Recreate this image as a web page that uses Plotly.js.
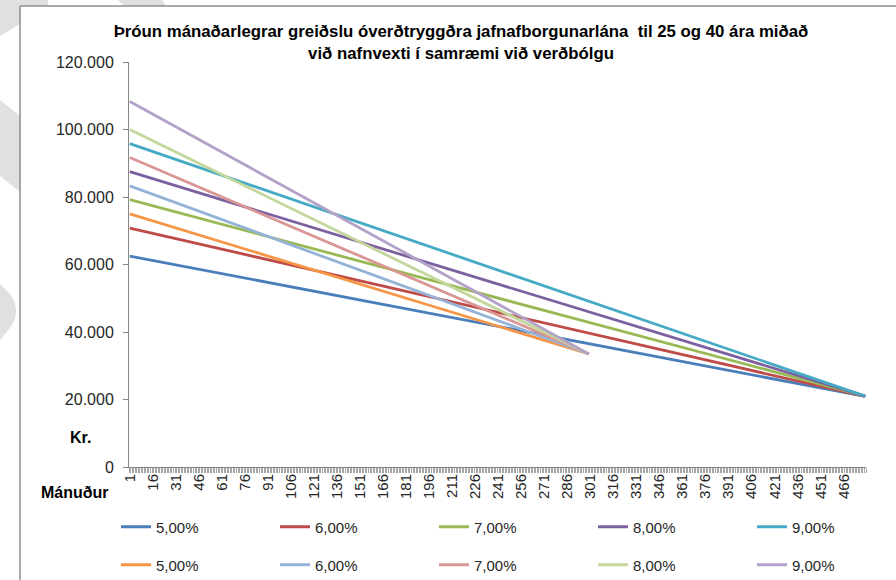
<!DOCTYPE html>
<html>
<head>
<meta charset="utf-8">
<script src="https://cdn.plot.ly/plotly-3.0.1.min.js"></script>
<style>html,body{margin:0;padding:0;background:#fff;}#chart{width:896px;height:580px;}</style>
</head>
<body>
<div id="chart"></div>
<script>
// ---- data ----
var seriesNames = ['5,00%', '6,00%', '7,00%', '8,00%', '9,00%'];
var months40 = [1, 480];
var months25 = [1, 300];
var start40 = [62500, 70800, 79200, 87500, 95800];
var end40 = [20900, 20900, 21000, 21000, 21000];
var start25 = [75000, 83300, 91700, 100000, 108300];
var end25 = [33500, 33500, 33500, 33500, 33500];
var xTickVals = [1, 16, 31, 46, 61, 76, 91, 106, 121, 136, 151, 166, 181, 196, 211, 226, 241, 256, 271, 286, 301, 316, 331, 346, 361, 376, 391, 406, 421, 436, 451, 466];
var yTickVals = [0, 20000, 40000, 60000, 80000, 100000, 120000];
var yTickText = ['0', '20.000', '40.000', '60.000', '80.000', '100.000', '120.000'];

// ---- styling ----
var colors40 = ['#4A7EBB', '#BE4B48', '#98B954', '#7D60A0', '#46AAC5'];
var colors25 = ['#F79646', '#95B3D7', '#D99694', '#C3D69B', '#B3A2C7'];
var FONT = 'Liberation Sans, Arial, sans-serif';
var TXT = '#262626';

var traces = [];
seriesNames.forEach(function (n, i) {
  traces.push({
    type: 'scatter', mode: 'lines', name: n, legend: 'legend',
    x: months40, y: [start40[i], end40[i]],
    line: {color: colors40[i], width: 2.8}, hoverinfo: 'skip'
  });
});
seriesNames.forEach(function (n, i) {
  traces.push({
    type: 'scatter', mode: 'lines', name: n, legend: 'legend2',
    x: months25, y: [start25[i], end25[i]],
    line: {color: colors25[i], width: 2.8}, hoverinfo: 'skip'
  });
});

var L = 129, R = 30, T = 62, B = 113, W = 896, H = 580;
var pw = W - L - R, ph = H - T - B;
function px(x) { return (x - L) / pw; }
function py(y) { return (H - B - y) / ph; }
function path(pts) {
  return 'M' + pts.map(function (p) { return px(p[0]) + ',' + py(p[1]); }).join(' L') + ' Z';
}

var legendBase = {
  orientation: 'h', xanchor: 'left', yanchor: 'middle',
  entrywidth: 114, entrywidthmode: 'pixels',
  font: {family: FONT, size: 15, color: TXT},
  bgcolor: 'rgba(0,0,0,0)', itemclick: false, itemdoubleclick: false
};

var wm = {type: 'path', xref: 'paper', yref: 'paper', fillcolor: '#e0e0e0', line: {width: 0}, layer: 'below'};

var layout = {
  width: W, height: H,
  margin: {l: L, r: R, t: T, b: B, autoexpand: false},
  paper_bgcolor: '#ffffff', plot_bgcolor: '#ffffff',
  showlegend: true,
  title: {
    text: '<b>Þróun mánaðarlegrar greiðslu óverðtryggðra jafnafborgunarlána  til 25 og 40 ára miðað<br>við nafnvexti í samræmi við verðbólgu</b>',
    x: 461 / W, xanchor: 'center', xref: 'container',
    y: 1 - 37 / H, yanchor: 'top', yref: 'container',
    font: {family: FONT, size: 16.8, color: '#000000'}
  },
  xaxis: {
    range: [0.5, 480.5], tickmode: 'array', tickvals: xTickVals, ticktext: xTickVals.map(String),
    tickangle: -90, ticks: '', showgrid: false, zeroline: false,
    showline: true, linecolor: '#868686', linewidth: 1,
    tickfont: {family: FONT, size: 15, color: TXT},
    minor: {ticks: 'outside', ticklen: 5, tickcolor: '#a6a6a6', tickwidth: 1, dtick: 1, tick0: 0.5, showgrid: false}
  },
  yaxis: {
    range: [0, 120000], tickmode: 'array', tickvals: yTickVals, ticktext: yTickText,
    ticks: 'outside', ticklen: 5, tickcolor: '#868686', showgrid: false, zeroline: false,
    showline: true, linecolor: '#868686', linewidth: 1, ticklabelstandoff: 6,
    tickfont: {family: FONT, size: 16, color: TXT}
  },
  legend: Object.assign({}, legendBase, {x: px(116), y: py(527)}),
  legend2: Object.assign({}, legendBase, {x: px(116), y: py(565)}),
  annotations: [
    {text: '<b>Kr.</b>', xref: 'paper', yref: 'paper', x: px(93), y: py(437), xanchor: 'right', yanchor: 'middle', showarrow: false, font: {family: FONT, size: 16, color: '#000'}},
    {text: '<b>Mánuður</b>', xref: 'paper', yref: 'paper', x: px(111), y: py(492), xanchor: 'right', yanchor: 'middle', showarrow: false, font: {family: FONT, size: 16, color: '#000'}}
  ],
  shapes: [
    Object.assign({}, wm, {path: path([[0, 0], [48, 0], [48, 6], [20, 6], [20, 24], [0, 36]])}),
    Object.assign({}, wm, {path: path([[118, 0], [162, 0], [166, 6], [124, 6]])}),
    Object.assign({}, wm, {path: path([[0, 100], [20, 116], [20, 192], [0, 176]])}),
    Object.assign({}, wm, {path: 'M' + px(0) + ',' + py(284) + ' L' + px(10) + ',' + py(294) + ' Q' + px(22) + ',' + py(311) + ' ' + px(10) + ',' + py(328) + ' L' + px(0) + ',' + py(340) + ' Z'}),
    {type: 'line', xref: 'paper', yref: 'paper', x0: px(20), x1: px(20), y0: py(6), y1: py(580), line: {color: '#8c8c8c', width: 1.5}},
    {type: 'line', xref: 'paper', yref: 'paper', x0: px(20), x1: px(896), y0: py(6), y1: py(6), line: {color: '#8c8c8c', width: 1.5}}
  ]
};

Plotly.newPlot('chart', traces, layout, {displayModeBar: false, staticPlot: true});
</script>
</body>
</html>
